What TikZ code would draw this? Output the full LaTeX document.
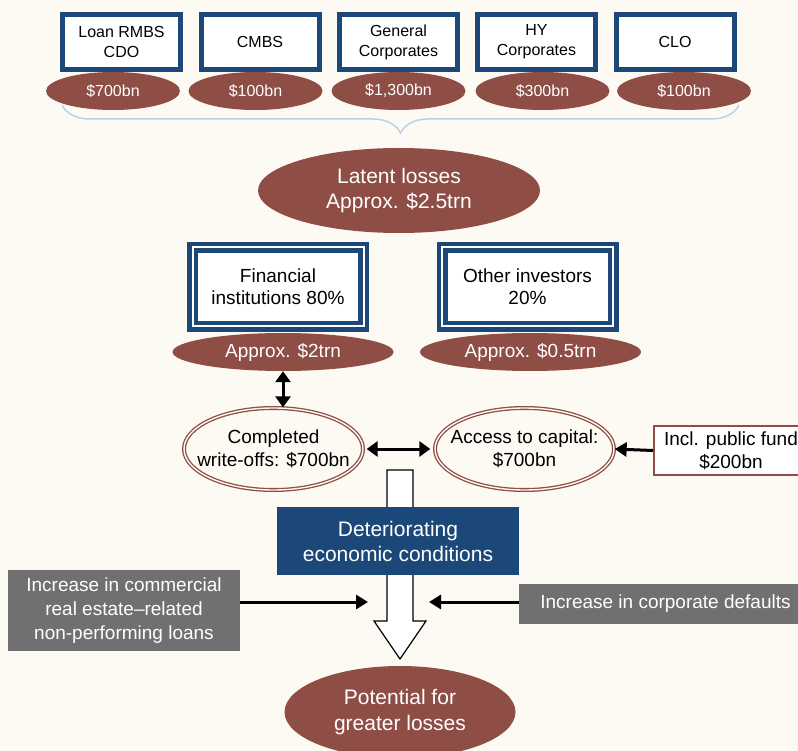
\documentclass[tikz,border=0pt]{standalone}
\usepackage{fontspec}
\setmainfont{Liberation Sans}
\usetikzlibrary{arrows.meta,decorations.pathreplacing,shapes.geometric}
\definecolor{bgcol}{RGB}{253,250,243}
\definecolor{bcol}{RGB}{27,72,120}
\definecolor{rcol}{RGB}{142,77,69}
\definecolor{lbcol}{RGB}{188,211,230}
\definecolor{gcol}{RGB}{112,112,112}
\tikzset{every picture/.style={x=1pt,y=-1pt}}
\tikzset{asset/.style={rectangle,draw=bcol,line width=5pt,fill=white,minimum width=118pt,minimum height=55pt,inner sep=0pt,align=center,font=\fontsize{16}{20}\selectfont}}
\tikzset{amount/.style={ellipse,fill=rcol,text=white,inner xsep=-30pt,inner ysep=-14pt,align=center}}
\tikzset{small/.style={minimum width=134pt,minimum height=38pt,font=\fontsize{16}{20}\selectfont}}
\tikzset{holder/.style={rectangle,draw=bcol,double=white,line width=4.5pt,double distance=2pt,fill=white,minimum width=171pt,minimum height=79pt,inner sep=0pt,align=center,font=\fontsize{19}{22}\selectfont}}
\tikzset{ring/.style={ellipse,draw=rcol,double=bgcol,line width=1.3pt,double distance=1.4pt,minimum width=179pt,minimum height=82pt,inner xsep=-30pt,inner ysep=-14pt,align=center,font=\fontsize{19}{23}\selectfont}}
\tikzset{factor/.style={rectangle,fill=gcol,text=white,inner sep=0pt,align=center,font=\fontsize{19}{24}\selectfont}}
\tikzset{edge/.style={line width=3pt,-{Triangle[length=12pt,width=14pt]}}}
\tikzset{both/.style={line width=3pt,{Triangle[length=11pt,width=15pt]}-{Triangle[length=11pt,width=15pt]}}}

\begin{document}
\begin{tikzpicture}
\fill [bgcol] (0,0) rectangle (798,751);
\useasboundingbox (0,0) rectangle (798,751);

\coordinate (br1) at (739,105);
\coordinate (br2) at (62,105);
\draw [lbcol,line width=1.5pt,decorate,decoration={brace,amplitude=28pt}] (br1) -- (br2);

\node [asset] (a1) at (121.5,42) {Loan RMBS\\CDO};
\node [asset] (a2) at (260,42) {CMBS};
\node [asset] (a3) at (398.5,42) {General\\Corporates};
\node [asset] (a4) at (536.5,42) {HY\\Corporates};
\node [asset] (a5) at (675,42) {CLO};

\node [amount,small] (v1) at (113,91) {\$700bn};
\node [amount,small] (v2) at (255.5,91) {\$100bn};
\node [amount,small] (v3) at (398.5,91) {\$1,300bn};
\node [amount,small] (v4) at (542.5,91) {\$300bn};
\node [amount,small] (v5) at (684,91) {\$100bn};

\node [amount,minimum width=282pt,minimum height=85pt,font=\fontsize{21}{25}\selectfont] (latent) at (399,190.5) {Latent losses\\Approx. \$2.5trn};

\node [holder] (fin) at (278,287) {Financial\\institutions 80\%};
\node [holder] (oth) at (527.5,287) {Other investors\\20\%};

\node [amount,minimum width=221pt,minimum height=38pt,font=\fontsize{19}{22}\selectfont] (fin_) at (283,352) {Approx. \$2trn};
\node [amount,minimum width=221pt,minimum height=38pt,font=\fontsize{19}{22}\selectfont] (oth_) at (530.5,352) {Approx. \$0.5trn};

\node [ring] (done) at (273.5,449) {Completed\\write-offs: \$700bn};
\node [ring] (cap) at (524.5,449) {Access to capital:\\\$700bn};
\node [rectangle,draw=rcol,line width=2pt,fill=white,minimum width=154pt,minimum height=49pt,inner sep=0pt,align=center,font=\fontsize{19}{23}\selectfont] (pub) at (731,450.5) {Incl. public fund\\\$200bn};

\draw [fill=white,line width=1.2pt] (387,470) -- (387,621) -- (374,621) -- (400,659) -- (426,621) -- (413,621) -- (413,470) -- cycle;

\node [rectangle,fill=bcol,text=white,minimum width=242pt,minimum height=68pt,inner sep=0pt,align=center,font=\fontsize{21}{25}\selectfont] (econ) at (398,541) {Deteriorating\\economic conditions};

\node [factor,minimum width=232pt,minimum height=81pt] (cre) at (124,610.5) {Increase in commercial\\real estate--related\\non-performing loans};
\node [factor,minimum width=293pt,minimum height=40pt] (corp) at (665.5,604) {Increase in corporate defaults};

\node [amount,minimum width=231pt,minimum height=92pt,font=\fontsize{21}{26}\selectfont] (pot) at (400,712) {Potential for\\greater losses};

\coordinate (lt) at (368,602);
\coordinate (rt) at (429,602);

\draw [both] (fin_.south) -- (fin_.south |- done.north);
\draw [both,shorten <=3pt,shorten >=4pt] (done.east) -- (cap.west);
\draw [edge] (pub.west) -- (cap.east);
\draw [edge] (cre.east |- lt) -- (lt);
\draw [edge] (corp.west |- rt) -- (rt);
\end{tikzpicture}
\end{document}
